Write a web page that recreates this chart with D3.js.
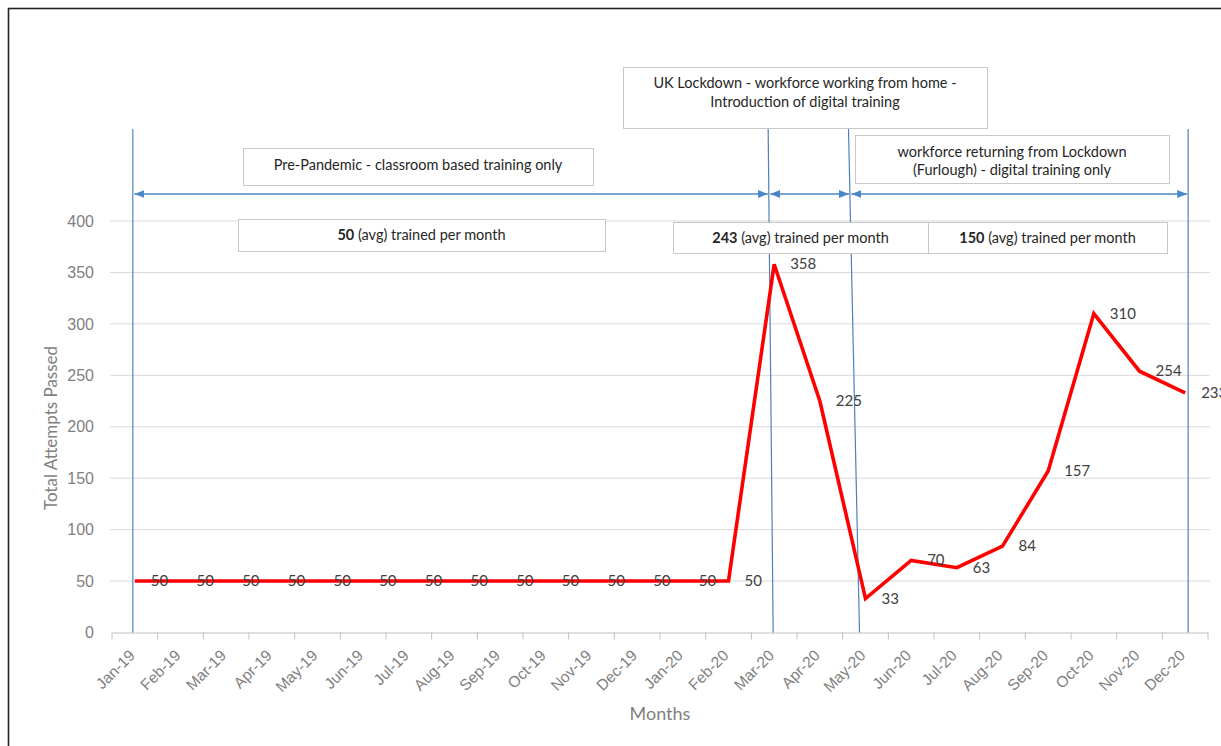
<!DOCTYPE html>
<html>
<head>
<meta charset="utf-8">
<script src="https://cdn.jsdelivr.net/npm/d3@7"></script>
<style>
  body { margin: 0; background: #fff; }
  svg { display: block; font-family: Lato, "Open Sans", sans-serif; }
</style>
</head>
<body>
<svg id="chart" width="1221" height="746"></svg>
<script>
// data
const months = ["Jan-19", "Feb-19", "Mar-19", "Apr-19", "May-19", "Jun-19", "Jul-19", "Aug-19",
                "Sep-19", "Oct-19", "Nov-19", "Dec-19", "Jan-20", "Feb-20", "Mar-20", "Apr-20",
                "May-20", "Jun-20", "Jul-20", "Aug-20", "Sep-20", "Oct-20", "Nov-20", "Dec-20"]
const passed = [50, 50, 50, 50, 50, 50, 50, 50, 50, 50, 50, 50, 50, 50,
                358, 225, 33, 70, 63, 84, 157, 310, 254, 233]
const yTicks = [0, 50, 100, 150, 200, 250, 300, 350, 400]

// phase boundaries (month the vertical marker sits on)
const phaseMarks = ["Jan-19", "Mar-20", "May-20", "Dec-20"]
const phaseNotes = [
  ["Pre-Pandemic - classroom based training only"],
  ["UK Lockdown - workforce working from home -", "Introduction of digital training"],
  ["workforce returning from Lockdown", "(Furlough) - digital training only"]
]
const avgTrained = [50, 243, 150]

const svg = d3.select("#chart")
const plotLeft = 112, plotRight = 1208, plotTop = 221, plotBottom = 632.5
const axisGrey = "#7f7f7f"

const x = d3.scaleBand().domain(months).range([plotLeft, plotRight]).padding(0)
const cx = (m) => x(m) + x.bandwidth() / 2
const y = d3.scaleLinear().domain([0, 400]).range([plotBottom, plotTop])

// outer frame
svg.append("rect")
  .attr("x", 8.5).attr("y", 8.5).attr("width", 1240).attr("height", 760)
  .attr("fill", "none").attr("stroke", "#222").attr("stroke-width", 1.6)

// gridlines
svg.append("g").selectAll("line")
  .data(yTicks.filter(d => d > 0))
  .enter().append("line")
    .attr("x1", plotLeft - 2).attr("x2", plotRight + 2)
    .attr("y1", d => y(d)).attr("y2", d => y(d))
    .attr("stroke", "#d9d9d9").attr("stroke-width", 1)

// y axis labels
const yAxis = svg.append("g")
  .attr("transform", `translate(${plotLeft - 18},0)`)
  .call(d3.axisLeft(y).tickValues(yTicks).tickSize(0).tickPadding(0))
yAxis.select(".domain").remove()
yAxis.selectAll("text").attr("fill", axisGrey).style("font-size", "16px")

// x axis
const xAxis = svg.append("g")
  .attr("transform", `translate(0,${plotBottom})`)
  .call(d3.axisBottom(x).tickSize(0).tickPadding(0))
xAxis.select(".domain").attr("stroke", "#bfbfbf")
xAxis.selectAll("text")
  .attr("fill", axisGrey).style("font-size", "15.5px")
  .attr("text-anchor", "end")
  .attr("dy", "0")
  .attr("transform", "translate(1,24) rotate(-45)")
// excel style ticks between categories
svg.append("g").selectAll("line")
  .data(months.concat(["end"]))
  .enter().append("line")
    .attr("x1", (d, i) => i < months.length ? x(d) : plotRight)
    .attr("x2", (d, i) => i < months.length ? x(d) : plotRight)
    .attr("y1", plotBottom).attr("y2", plotBottom + 7)
    .attr("stroke", "#bfbfbf")

// axis titles
svg.append("text")
  .attr("x", 660).attr("y", 720)
  .attr("text-anchor", "middle").attr("fill", axisGrey)
  .style("font-size", "18px").text("Months")
svg.append("text")
  .attr("transform", "translate(57,428) rotate(-90)")
  .attr("text-anchor", "middle").attr("fill", axisGrey)
  .style("font-size", "17px").text("Total Attempts Passed")

// phase marker lines (drawn slightly slanted like the original)
const markShift = { "Jan-19": [-2, -2], "Mar-20": [-6, -1], "May-20": [-17, -6], "Dec-20": [3, 3] }
const markX = (m, end) => cx(m) + markShift[m][end]
svg.append("g").selectAll("line")
  .data(phaseMarks)
  .enter().append("line")
    .attr("x1", d => markX(d, 0)).attr("y1", 129)
    .attr("x2", d => markX(d, 1)).attr("y2", plotBottom)
    .attr("stroke", "#4f81bd").attr("stroke-width", 1.2)

// double arrows between markers
const arrowY = 194
const defs = svg.append("defs")
defs.append("marker")
  .attr("id", "head").attr("viewBox", "0 0 10 10")
  .attr("refX", 10).attr("refY", 5)
  .attr("markerWidth", 10).attr("markerHeight", 10)
  .attr("markerUnits", "userSpaceOnUse")
  .attr("orient", "auto-start-reverse")
  .append("path").attr("d", "M0,1 L10,5 L0,9 Z").attr("fill", "#4a86c8")

const markAtY = (m) => {
  const t = (arrowY - 129) / (plotBottom - 129)
  return markX(m, 0) + (markX(m, 1) - markX(m, 0)) * t
}
svg.append("g").selectAll("line")
  .data(d3.pairs(phaseMarks))
  .enter().append("line")
    .attr("x1", d => markAtY(d[0]) + 1.5).attr("x2", d => markAtY(d[1]) - 1)
    .attr("y1", arrowY).attr("y2", arrowY)
    .attr("stroke", "#4a86c8").attr("stroke-width", 1.3)
    .attr("marker-start", "url(#head)").attr("marker-end", "url(#head)")

// annotation boxes
const noteBoxes = [
  { x: 243, y: 148, w: 350, h: 37, ty: [170] },
  { x: 623, y: 67, w: 364, h: 61, ty: [88, 107] },
  { x: 855, y: 135, w: 314, h: 48, ty: [157, 175] }
]
const avgBoxes = [
  { x: 238, y: 219, w: 367, h: 32 },
  { x: 673, y: 222, w: 255, h: 31 },
  { x: 928, y: 222, w: 239, h: 31 }
]

const notes = svg.append("g")
noteBoxes.forEach((b, i) => {
  notes.append("rect")
    .attr("x", b.x + 0.5).attr("y", b.y + 0.5).attr("width", b.w).attr("height", b.h)
    .attr("fill", "#fff").attr("stroke", "#c9c9c9")
  phaseNotes[i].forEach((line, j) => {
    notes.append("text")
      .attr("x", b.x + b.w / 2).attr("y", b.ty[j])
      .attr("text-anchor", "middle").attr("fill", "#262626")
      .style("font-size", "14.5px").text(line)
  })
})
avgBoxes.forEach((b, i) => {
  notes.append("rect")
    .attr("x", b.x + 0.5).attr("y", b.y + 0.5).attr("width", b.w).attr("height", b.h)
    .attr("fill", "#fff").attr("stroke", "#c9c9c9")
  const t = notes.append("text")
    .attr("x", b.x + b.w / 2).attr("y", b.y + b.h / 2 + 5)
    .attr("text-anchor", "middle").attr("fill", "#262626")
    .style("font-size", "14.5px")
  t.append("tspan").attr("font-weight", "bold").text(avgTrained[i])
  t.append("tspan").text(" (avg) trained per month")
})

// the series
const line = d3.line()
  .x((d, i) => cx(months[i]))
  .y(d => y(d))
svg.append("path")
  .datum(passed)
  .attr("d", line)
  .attr("fill", "none")
  .attr("stroke", "#ff0000")
  .attr("stroke-width", 3.6)
  .attr("stroke-linejoin", "miter")

// data labels to the right of each point
svg.append("g").selectAll("text")
  .data(passed)
  .enter().append("text")
    .attr("x", (d, i) => cx(months[i]) + 16)
    .attr("y", d => y(d) + 5)
    .attr("fill", "#404040")
    .style("font-size", "15px")
    .text(d => d)
</script>
</body>
</html>
